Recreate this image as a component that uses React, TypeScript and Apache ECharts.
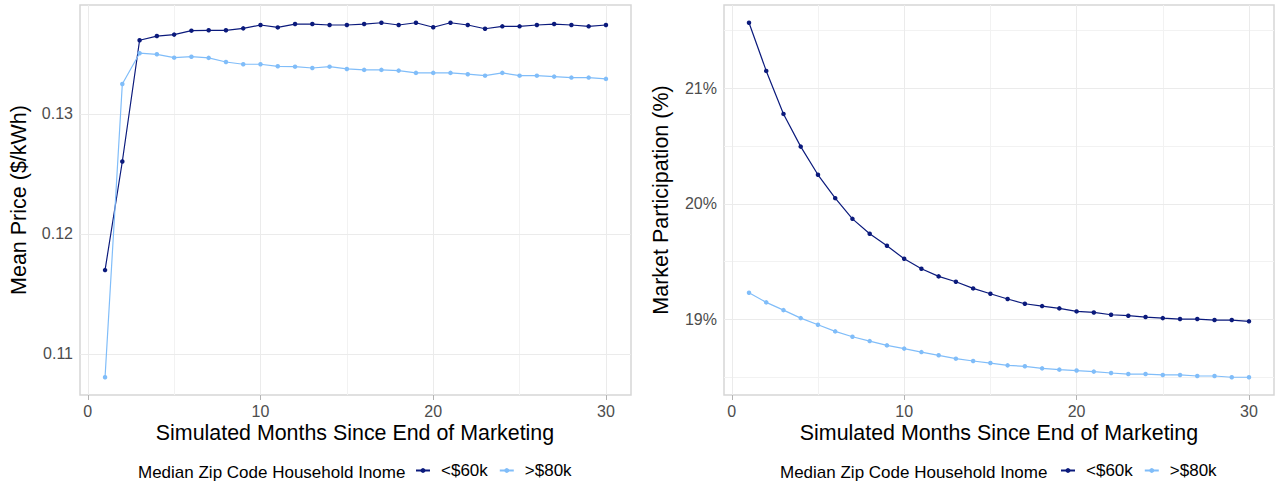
import React, { useEffect, useRef } from 'react';
import * as echarts from 'echarts';

// Months since the end of the marketing campaign
const months = [1, 2, 3, 4, 5, 6, 7, 8, 9, 10, 11, 12, 13, 14, 15, 16, 17, 18, 19, 20, 21, 22, 23, 24, 25, 26, 27, 28, 29, 30];

// Mean price ($/kWh) by income group
const priceLow = [
  0.11698, 0.12603, 0.13613, 0.13648, 0.1366, 0.13693, 0.13696, 0.13696, 0.13712, 0.1374,
  0.1372, 0.13748, 0.13748, 0.1374, 0.1374, 0.13748, 0.13759, 0.1374, 0.13759, 0.13721,
  0.13759, 0.1374, 0.13709, 0.13729, 0.13729, 0.1374, 0.13748, 0.1374, 0.13729, 0.1374,
];
const priceHigh = [
  0.10805, 0.13249, 0.13505, 0.13496, 0.13468, 0.13476, 0.13466, 0.13432, 0.13413, 0.13413,
  0.13396, 0.13393, 0.13382, 0.13393, 0.13374, 0.13366, 0.13366, 0.1336, 0.13341, 0.13341,
  0.13341, 0.1333, 0.13318, 0.13341, 0.13318, 0.13318, 0.1331, 0.13302, 0.13302, 0.13291,
];

// Market participation (%) by income group
const shareLow = [
  21.567, 21.15, 20.778, 20.495, 20.251, 20.049, 19.87, 19.741, 19.637, 19.524,
  19.438, 19.372, 19.326, 19.268, 19.222, 19.176, 19.135, 19.115, 19.095, 19.069,
  19.06, 19.04, 19.032, 19.02, 19.011, 19.003, 19.003, 18.994, 18.994, 18.983,
];
const shareHigh = [
  19.231, 19.147, 19.08, 19.011, 18.954, 18.896, 18.85, 18.812, 18.775, 18.747,
  18.717, 18.689, 18.66, 18.64, 18.622, 18.602, 18.594, 18.576, 18.565, 18.557,
  18.548, 18.536, 18.527, 18.527, 18.519, 18.519, 18.51, 18.51, 18.499, 18.499,
];

const groupNames = ['<$60k', '>$80k'];

// Tick positions
const monthTicks = [0, 10, 20, 30];
const monthMinor = [5, 15, 25];
const priceTicks = [0.11, 0.12, 0.13];
const priceMinor = [0.105, 0.115, 0.125, 0.135];
const shareTicks = [19, 20, 21];
const shareMinor = [18.5, 19.5, 20.5, 21.5];

const FONT = '"Liberation Sans", Arial, Helvetica, sans-serif';
const DARK = '#0B1A7C';
const LIGHT = '#80BDF9';
const TICK_TEXT = '#4D4D4D';

// Continuous-scale padding of 5% on each side
function padRange(...sets: number[][]): [number, number] {
  const all = sets.flat();
  const lo = Math.min(...all);
  const hi = Math.max(...all);
  const pad = (hi - lo) * 0.05;
  return [lo - pad, hi + pad];
}

function xAxisFor(gridIndex: number) {
  const [min, max] = padRange(months);
  return {
    type: 'value',
    gridIndex,
    min,
    max,
    axisLine: { show: false },
    axisTick: { show: true, length: 5, customValues: monthTicks, lineStyle: { color: '#B3B3B3', width: 1 } },
    axisLabel: { customValues: monthTicks, margin: 8, fontSize: 16, color: TICK_TEXT, fontFamily: FONT },
    splitLine: { show: false },
  };
}

function yAxisFor(gridIndex: number, range: [number, number], ticks: number[], fmt: (v: number) => string) {
  return {
    type: 'value',
    gridIndex,
    min: range[0],
    max: range[1],
    axisLine: { show: false },
    axisTick: { show: true, length: 5, customValues: ticks, lineStyle: { color: '#B3B3B3', width: 1 } },
    axisLabel: { customValues: ticks, margin: 7, fontSize: 16, color: TICK_TEXT, fontFamily: FONT, formatter: fmt },
    splitLine: { show: false },
  };
}

function gridLines(index: number, yMajor: number[], yMinor: number[]) {
  const major = { color: '#EBEBEB', width: 1, type: 'solid' };
  const minor = { color: '#F2F2F2', width: 1, type: 'solid' };
  return {
    type: 'line',
    xAxisIndex: index,
    yAxisIndex: index,
    data: [],
    silent: true,
    markLine: {
      silent: true,
      z: 1,
      symbol: ['none', 'none'],
      label: { show: false },
      emphasis: { disabled: true },
      data: [
        ...yMinor.map((v) => ({ yAxis: v, lineStyle: minor })),
        ...monthMinor.map((v) => ({ xAxis: v, lineStyle: minor })),
        ...yMajor.map((v) => ({ yAxis: v, lineStyle: major })),
        ...monthTicks.map((v) => ({ xAxis: v, lineStyle: major })),
      ],
    },
  };
}

function dataSeries(index: number, name: string, values: number[], color: string) {
  return {
    type: 'line',
    name,
    xAxisIndex: index,
    yAxisIndex: index,
    z: 3,
    data: months.map((m, i) => [m, values[i]]),
    symbol: 'circle',
    symbolSize: 4.5,
    showSymbol: true,
    itemStyle: { color },
    lineStyle: { color, width: 1.2 },
    emphasis: { disabled: true },
  };
}

function legendFor(left: number) {
  return {
    left,
    top: 462,
    padding: 0,
    orient: 'horizontal',
    itemWidth: 14,
    itemHeight: 6,
    itemGap: 11,
    selectedMode: false,
    data: groupNames,
    textStyle: { fontSize: 17, color: '#000', fontFamily: FONT, padding: [0, 0, 0, 6] },
  };
}

function textEl(text: string, x: number, y: number, size: number, rotation = 0, align = 'center') {
  return {
    type: 'text',
    x,
    y,
    rotation,
    silent: true,
    style: { text, fontSize: size, fontFamily: FONT, fill: '#000', align, verticalAlign: 'middle' },
  };
}

export default function App() {
  const ref = useRef<HTMLDivElement>(null);

  useEffect(() => {
    if (!ref.current) return;
    const chart = echarts.init(ref.current, undefined, { renderer: 'svg' });
    const priceRange = padRange(priceLow, priceHigh);
    const shareRange = padRange(shareLow, shareHigh);

    chart.setOption({
      animation: false,
      backgroundColor: '#fff',
      grid: [
        { left: 80, top: 5, width: 551, height: 390, show: true, borderColor: '#D6D6D6', borderWidth: 1.5 },
        { left: 724, top: 5, width: 550, height: 390, show: true, borderColor: '#D6D6D6', borderWidth: 1.5 },
      ],
      xAxis: [xAxisFor(0), xAxisFor(1)],
      yAxis: [
        yAxisFor(0, priceRange, priceTicks, (v: number) => v.toFixed(2)),
        yAxisFor(1, shareRange, shareTicks, (v: number) => `${Math.round(v)}%`),
      ],
      legend: [legendFor(415), legendFor(1060)],
      series: [
        gridLines(0, priceTicks, priceMinor),
        gridLines(1, shareTicks, shareMinor),
        dataSeries(0, groupNames[0], priceLow, DARK),
        dataSeries(0, groupNames[1], priceHigh, LIGHT),
        dataSeries(1, groupNames[0], shareLow, DARK),
        dataSeries(1, groupNames[1], shareHigh, LIGHT),
      ],
      graphic: [
        textEl('Mean Price ($/kWh)', 19, 200, 21.5, Math.PI / 2),
        textEl('Market Participation (%)', 661, 200, 21.5, Math.PI / 2),
        textEl('Simulated Months Since End of Marketing', 355, 433, 21.4),
        textEl('Simulated Months Since End of Marketing', 999, 433, 21.4),
        textEl('Median Zip Code Household Inome', 138, 472, 17, 0, 'left'),
        textEl('Median Zip Code Household Inome', 780, 472, 17, 0, 'left'),
      ],
    });

    return () => chart.dispose();
  }, []);

  return (
    <div
      ref={ref}
      style={{ position: 'fixed', left: 0, top: 0, width: 1276, height: 485, background: '#fff' }}
    />
  );
}
